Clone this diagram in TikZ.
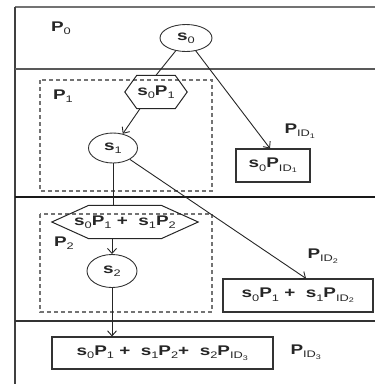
\documentclass[tikz,border=0pt]{standalone}
\usepackage{fontspec}
\setmainfont{Liberation Sans}[FakeStretch=1.35]
\usetikzlibrary{arrows.meta,shapes.geometric}
\newcommand\dn[1]{\raisebox{-0.45ex}{\fontsize{9.5}{10}\selectfont\mdseries #1}}
\begin{document}
\begin{tikzpicture}[x=1pt,y=-1pt,
  every node/.style={font=\fontsize{14}{16}\selectfont\bfseries, text=black!85, inner sep=0pt},
  frameline/.style={draw=black!75, line width=1.2pt},
  dashbox/.style={draw=black!55, line width=1.1pt, dash pattern=on 4pt off 3pt},
  conn/.style={draw=black!85, line width=0.9pt},
  arr/.style={conn, -{Straight Barb[length=5pt,width=9pt]}},
  ell/.style={ellipse, draw=black!80, line width=0.9pt},
  box/.style={rectangle, draw=black!80, line width=1.1pt},
  hexb/.style={rectangle, draw=none}]
\useasboundingbox (0,0) rectangle (375,384);
% frame
\draw[frameline, draw=black!55, line width=1.4pt] (375,7) -- (15,7);
\draw[frameline] (15,7) -- (15,384);
\draw[frameline, draw=black!65] (15,69) -- (375,69);
\draw[frameline, draw=black!90] (15,197) -- (375,197);
\draw[frameline, draw=black!80] (15,321) -- (375,321);
% dashed regions
\draw[dashbox] (40,80) rectangle (212,191);
\draw[dashbox] (40,214) rectangle (212,312);
% labels
\node (lp0) at (61,28) {P\dn{0}};
\node (lp1) at (63,96) {P\dn{1}};
\node (lp2) at (64,243) {P\dn{2}};
\node (lpid1) at (300,131) {P\dn{ID\textsubscript{1}}};
\node (lpid2) at (323,256) {P\dn{ID\textsubscript{2}}};
\node (lpid3) at (306,352) {P\dn{ID\textsubscript{3}}};
% nodes
\node[ell, minimum width=52, minimum height=27] (s0) at (186,38) {s\dn{0}};
\node[hexb, minimum width=62, minimum height=33] (h1) at (156,92) {s\dn{0}P\dn{1}};
\draw[conn, line width=1pt] (h1.west) -- ([xshift=12]h1.north west) -- ([xshift=-12]h1.north east) -- (h1.east) -- ([xshift=-12]h1.south east) -- ([xshift=12]h1.south west) -- cycle;
\node[ell, minimum width=49, minimum height=30] (s1) at (113,148) {s\dn{1}};
\node[hexb, minimum width=146, minimum height=33] (h2) at (125,222) {s\dn{0}P\dn{1} + \ s\dn{1}P\dn{2}};
\draw[conn, line width=1pt] (h2.west) -- ([xshift=37]h2.north west) -- ([xshift=-37]h2.north east) -- (h2.east) -- ([xshift=-37]h2.south east) -- ([xshift=37]h2.south west) -- cycle;
\node[ell, minimum width=50, minimum height=33] (s2) at (112,271) {s\dn{2}};
\node[box, minimum width=74, minimum height=33] (b1) at (273,165.5) {s\dn{0}P\dn{ID\textsubscript{1}}};
\node[box, minimum width=150, minimum height=33] (b2) at (298,295.5) {s\dn{0}P\dn{1} + \ s\dn{1}P\dn{ID\textsubscript{2}}};
\node[box, minimum width=221, minimum height=32] (b3) at (162.5,353) {s\dn{0}P\dn{1} + \ s\dn{1}P\dn{2}+ \ s\dn{2}P\dn{ID\textsubscript{3}}};
% connectors
\draw[conn] (s0) -- (h1.north);
\draw[arr] ([xshift=-16]h1.south) -- (s1);
\draw[arr] (s0) -- ([xshift=-3]b1.north);
\draw[conn] (s1.south) -- (s1.south |- h2.north);
\draw[arr] (s1) -- ([xshift=8]b2.north);
\draw[arr] (s2.north |- h2.south) -- (s2.north);
\draw[arr] (s2.south) -- (s2.south |- b3.north);
\end{tikzpicture}
\end{document}
